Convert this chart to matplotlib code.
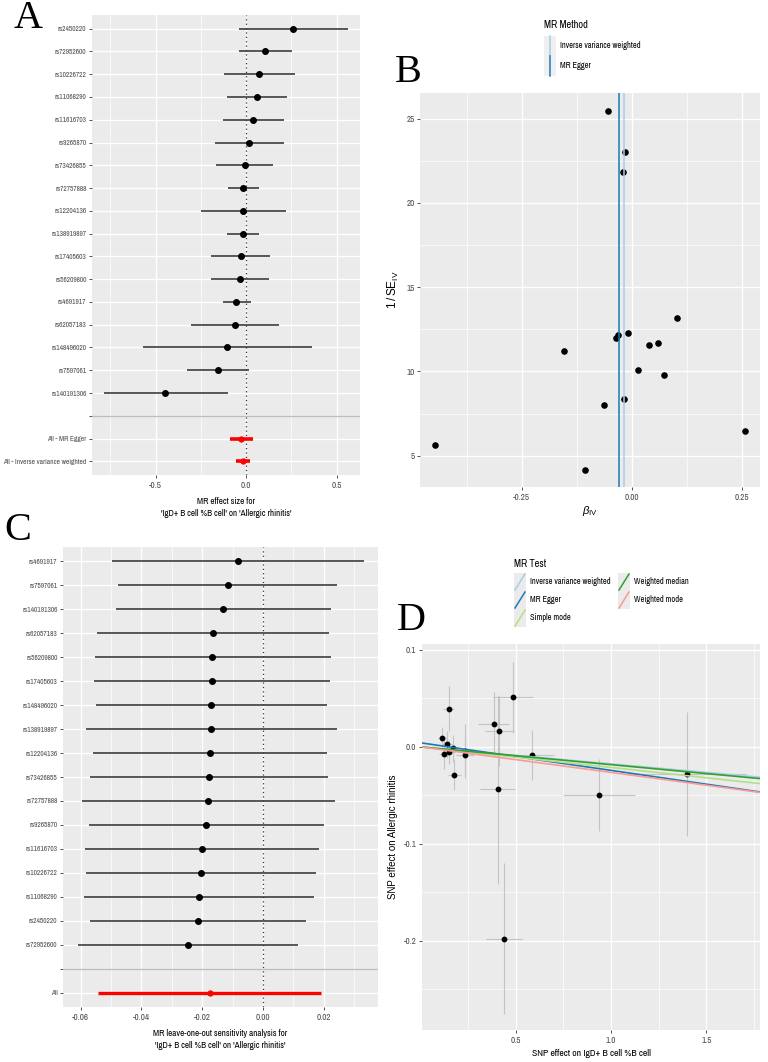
import numpy as np
import matplotlib
matplotlib.use('Agg')
import matplotlib.pyplot as plt
from matplotlib import font_manager
from matplotlib.lines import Line2D
from matplotlib.patches import Rectangle

W, H = 768, 1062

# Panel A: single SNP MR estimates (beta, 95% CI)
snp_a = ['rs2450220', 'rs72952600', 'rs10226722', 'rs11068290', 'rs11616703', 'rs9265870',
         'rs73426855', 'rs72757888', 'rs12204136', 'rs138919897', 'rs17405603', 'rs56209800',
         'rs4691917', 'rs62057183', 'rs148496020', 'rs7597061', 'rs140191306']
b_a = [0.256, 0.103, 0.072, 0.059, 0.039, 0.015, -0.009, -0.015, -0.017, -0.020,
       -0.031, -0.035, -0.054, -0.063, -0.107, -0.155, -0.446]
lo_a = [-0.042, -0.042, -0.125, -0.105, -0.127, -0.175, -0.166, -0.098, -0.247, -0.107,
        -0.192, -0.192, -0.127, -0.306, -0.572, -0.327, -0.788]
hi_a = [0.561, 0.253, 0.271, 0.227, 0.208, 0.210, 0.149, 0.070, 0.218, 0.070,
        0.133, 0.125, 0.024, 0.183, 0.362, 0.017, -0.098]
all_a = ['All - MR Egger', 'All - Inverse variance weighted']
all_b_a = [-0.028, -0.0176]
all_lo_a = [-0.087, -0.054]
all_hi_a = [0.035, 0.020]

# Panel B: funnel plot, 1/SE per SNP (same order as snp_a)
inv_se_b = [6.45, 13.15, 9.80, 11.71, 11.57, 10.06, 12.30, 23.0, 8.39, 21.84,
            12.18, 11.96, 25.47, 7.98, 4.17, 11.23, 5.64]
methods_b = ['Inverse variance weighted', 'MR Egger']
est_b = [-0.0176, -0.0285]

# Panel C: leave-one-out
snp_c = ['rs4691917', 'rs7597061', 'rs140191306', 'rs62057183', 'rs56209800', 'rs17405603',
         'rs148496020', 'rs138919897', 'rs12204136', 'rs73426855', 'rs72757888', 'rs9265870',
         'rs11616703', 'rs10226722', 'rs11068290', 'rs2450220', 'rs72952600']
b_c = [-0.0082, -0.0116, -0.0132, -0.0166, -0.0167, -0.0169, -0.0171, -0.0171, -0.0176,
       -0.0179, -0.0181, -0.0187, -0.0201, -0.0204, -0.0211, -0.0213, -0.0248]
lo_c = [-0.0496, -0.0476, -0.0485, -0.0547, -0.0554, -0.0556, -0.0548, -0.0582, -0.0559,
        -0.0568, -0.0597, -0.0573, -0.0585, -0.0582, -0.0590, -0.0568, -0.0610]
hi_c = [0.0333, 0.0244, 0.0224, 0.0218, 0.0223, 0.0221, 0.0210, 0.0243, 0.0210,
        0.0212, 0.0237, 0.0199, 0.0184, 0.0174, 0.0169, 0.0142, 0.0114]
all_c = ['All']
all_b_c = [-0.0176]
all_lo_c = [-0.0543]
all_hi_c = [0.0192]

# Panel D: scatter, SNP effects on exposure / outcome (same order as snp_a)
bx = [0.150, 0.486, 0.115, 0.386, 0.416, 0.141, 0.170, 0.584, 0.235, 1.398,
      0.233, 0.152, 0.937, 0.124, 0.406, 0.180, 0.439]
by = [0.0393, 0.051, 0.009, 0.0235, 0.0166, 0.0025, -0.0015, -0.0086, -0.004, -0.028,
      -0.0083, -0.0052, -0.050, -0.0079, -0.044, -0.0286, -0.198]
bx_se = [0.029, 0.106, 0.023, 0.080, 0.078, 0.028, 0.034, 0.120, 0.047, 0.308,
         0.047, 0.030, 0.187, 0.025, 0.090, 0.036, 0.094]
by_se = [0.023, 0.0365, 0.0116, 0.033, 0.036, 0.014, 0.014, 0.026, 0.028, 0.064,
         0.019, 0.0125, 0.037, 0.0155, 0.097, 0.016, 0.078]
methods_d = ['Inverse variance weighted', 'MR Egger', 'Simple mode', 'Weighted median', 'Weighted mode']
slope_d = [-0.0176, -0.0285, -0.0213, -0.0184, -0.0264]
icept_d = [0.0, 0.0042, 0.0, 0.0, 0.0]
colors_d = ['#A6CEE3', '#1F78B4', '#B2DF8A', '#33A02C', '#FB9A99']

# the figure text looks like a narrow sans, use one if there is one
names = {f.name for f in font_manager.fontManager.ttflist}
narrow = 'Liberation Sans'
for cand in ['Liberation Sans Narrow', 'Arial Narrow', 'Archivo Narrow', 'PT Sans Narrow',
             'Roboto Condensed', 'Open Sans Condensed', 'Fira Sans Condensed']:
    if cand in names:
        narrow = cand
        break
is_narrow = narrow != 'Liberation Sans'
plt.rcParams['font.family'] = [narrow, 'DejaVu Sans']
plt.rcParams['mathtext.fontset'] = 'custom'
plt.rcParams['mathtext.rm'] = 'Liberation Sans'
plt.rcParams['mathtext.it'] = 'Liberation Sans:italic'

ylab_size = 5.3 if is_narrow else 4.6
BG = '#EBEBEB'
TXT = '#4D4D4D'


def fig_xy(px, py):
    return px / W, 1 - py / H


def add_axes_px(fig, left, top, right, bottom):
    return fig.add_axes([left / W, 1 - bottom / H, (right - left) / W, (bottom - top) / H])


def gg_style(ax, size=6.5):
    ax.set_facecolor(BG)
    for s in ax.spines.values():
        s.set_visible(False)
    ax.tick_params(which='major', length=2.5, width=0.6, color='#333333',
                   labelcolor=TXT, labelsize=size, pad=1.5)
    ax.tick_params(which='minor', length=0)
    ax.grid(which='major', color='white', lw=1.0)
    ax.grid(which='minor', color='white', lw=0.5)
    ax.set_axisbelow(True)


def forest(ax, labels, est, lo, hi, all_labels, all_est, all_lo, all_hi,
           xlim, major, minor, all_lw):
    k = len(all_labels)
    n = len(labels)
    y_all = np.arange(k, 0, -1)
    y_snp = np.arange(n, 0, -1) + k + 1
    sep = k + 1
    gg_style(ax)
    ax.set_xlim(xlim)
    ax.set_ylim(0.4, n + k + 1.6)
    ax.set_xticks(major)
    ax.set_xticks(minor, minor=True)
    ax.set_yticks(list(y_snp) + [sep] + list(y_all), labels + [''] + all_labels)
    ax.tick_params(axis='y', labelsize=ylab_size)
    ax.axvline(0, color='#333333', ls=(0, (1, 2.5)), lw=0.9, zorder=1)
    ax.axhline(sep, color='#BEBEBE', lw=1.0, zorder=1)
    ax.hlines(y_snp, lo, hi, color='#3c3c3c', lw=1.2, zorder=2)
    ax.plot(est, y_snp, 'o', color='black', ms=4, zorder=3)
    ax.hlines(y_all, all_lo, all_hi, color='red', lw=all_lw, zorder=2)
    ax.plot(all_est, y_all, 'o', color='red', ms=3.5, zorder=3)


fig = plt.figure(figsize=(W / 100, H / 100), dpi=100)

# ---- A ----
axA = add_axes_px(fig, 92, 15, 360, 475)
forest(axA, snp_a, b_a, lo_a, hi_a, all_a, all_b_a, all_lo_a, all_hi_a,
       (-0.852, 0.629), [-0.5, 0.0, 0.5], [-0.75, -0.25, 0.25], 2.6)
axA.set_xticklabels(['-0.5', '0.0', '0.5'])
axA.set_xlabel("MR effect size for\n'IgD+ B cell %B cell' on 'Allergic rhinitis'",
               fontsize=6.5, color='black', labelpad=5, linespacing=1.5)

# ---- B ----
axB = add_axes_px(fig, 420, 93, 760, 487)
gg_style(axB)
axB.set_xlim(-0.481, 0.291)
axB.set_ylim(3.14, 26.53)
axB.set_xticks([-0.25, 0.0, 0.25], ['-0.25', '0.00', '0.25'])
axB.set_xticks([-0.375, -0.125, 0.125], minor=True)
axB.set_yticks([5, 10, 15, 20, 25])
axB.set_yticks([7.5, 12.5, 17.5, 22.5], minor=True)
axB.scatter(b_a, inv_se_b, s=14, color='black', zorder=2)
for m, e in zip(methods_b, est_b):
    axB.axvline(e, color=colors_d[methods_d.index(m)], lw=1.1, zorder=3)
axB.set_xlabel(r'$\beta_{\mathrm{IV}}$', fontsize=8, color='black', labelpad=2)
axB.set_ylabel(r'$1\,/\,\mathrm{SE}_{\mathrm{IV}}$', fontsize=8.5, color='black',
               labelpad=4, family='Liberation Sans')

# legend B
fig.text(*fig_xy(544, 25), 'MR Method', fontsize=7.5, va='center', ha='left')
for i, m in enumerate(methods_b):
    top = 36 + 20 * i
    x0, y0 = fig_xy(544, top + 20)
    fig.add_artist(Rectangle((x0, y0), 12 / W, 20 / H, transform=fig.transFigure,
                             facecolor='#F0F0F0', edgecolor='none'))
    xa, ya = fig_xy(550, top)
    xb, yb = fig_xy(550, top + 20)
    fig.add_artist(Line2D([xa, xb], [ya, yb], transform=fig.transFigure,
                          color=colors_d[methods_d.index(m)], lw=1.1))
    fig.text(*fig_xy(560, top + 10), m, fontsize=6, va='center', ha='left')

# ---- C ----
axC = add_axes_px(fig, 63, 547, 378, 1007)
forest(axC, snp_c, b_c, lo_c, hi_c, all_c, all_b_c, all_lo_c, all_hi_c,
       (-0.0658, 0.0378), [-0.06, -0.04, -0.02, 0.0, 0.02],
       [-0.05, -0.03, -0.01, 0.01, 0.03], 2.4)
axC.set_xticklabels(['-0.06', '-0.04', '-0.02', '0.00', '0.02'])
axC.set_xlabel("MR leave-one-out sensitivity analysis for\n'IgD+ B cell %B cell' on 'Allergic rhinitis'",
               fontsize=6.5, color='black', labelpad=5, linespacing=1.5)

# ---- D ----
axD = add_axes_px(fig, 422, 644, 760, 1030)
gg_style(axD)
axD.set_xlim(0.010, 1.781)
axD.set_ylim(-0.292, 0.106)
axD.set_xticks([0.5, 1.0, 1.5])
axD.set_xticks([0.25, 0.75, 1.25, 1.75], minor=True)
axD.set_yticks([-0.2, -0.1, 0.0, 0.1], ['-0.2', '-0.1', '0.0', '0.1'])
axD.set_yticks([-0.25, -0.15, -0.05, 0.05], minor=True)
axD.errorbar(bx, by, xerr=bx_se, yerr=by_se, fmt='none', ecolor='#C4C4C4',
             elinewidth=0.8, zorder=2)
axD.scatter(bx, by, s=10, color='black', zorder=3)
for m, s, b, c in zip(methods_d, slope_d, icept_d, colors_d):
    axD.axline((0, b), slope=s, color=c, lw=1.2, zorder=4)
axD.set_xlabel('SNP effect on IgD+ B cell %B cell', fontsize=7, color='black', labelpad=3)
axD.set_ylabel('SNP effect on Allergic rhinitis', fontsize=7, color='black',
               labelpad=4, family='Liberation Sans')

# legend D
fig.text(*fig_xy(514, 564), 'MR Test', fontsize=7.5, va='center', ha='left')
col_x = [514, 618 if is_narrow else 632]
for i, (m, c) in enumerate(zip(methods_d, colors_d)):
    col, row = (0, i) if i < 3 else (1, i - 3)
    kx = col_x[col]
    top = 573 + 18 * row
    x0, y0 = fig_xy(kx, top + 18)
    fig.add_artist(Rectangle((x0, y0), 12 / W, 18 / H, transform=fig.transFigure,
                             facecolor='#EBEBEB', edgecolor='none'))
    xa, ya = fig_xy(kx + 1, top + 17)
    xb, yb = fig_xy(kx + 11, top + 1)
    fig.add_artist(Line2D([xa, xb], [ya, yb], transform=fig.transFigure, color=c, lw=1.1))
    fig.text(*fig_xy(kx + 16, top + 9), m, fontsize=6, va='center', ha='left')

# panel letters
for letter, (px, py) in zip('ABCD', [(28, 19), (408, 72), (18, 530), (411, 620)]):
    fig.text(*fig_xy(px, py), letter, fontsize=29, family='Liberation Serif',
             ha='center', va='center')

fig.savefig('out.png', dpi=100)
